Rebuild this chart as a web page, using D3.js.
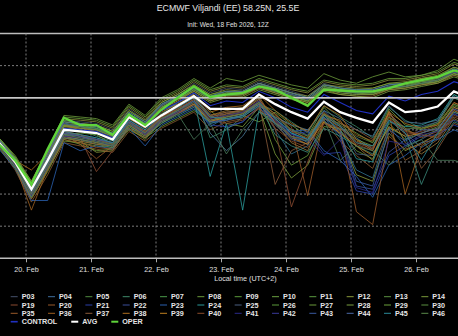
<!DOCTYPE html>
<html><head><meta charset="utf-8">
<script src="https://cdn.jsdelivr.net/npm/d3@7"></script>
<style>html,body{margin:0;padding:0;background:#000;overflow:hidden}svg{display:block}</style>
</head><body><svg id="c" width="458" height="336"></svg>
<script>
// ---- categories (local time, UTC+2) ----
const times = ["2026-02-19T14:00","2026-02-19T20:00",
"2026-02-20T02:00","2026-02-20T08:00","2026-02-20T14:00","2026-02-20T20:00",
"2026-02-21T02:00","2026-02-21T08:00","2026-02-21T14:00","2026-02-21T20:00",
"2026-02-22T02:00","2026-02-22T08:00","2026-02-22T14:00","2026-02-22T20:00",
"2026-02-23T02:00","2026-02-23T08:00","2026-02-23T14:00","2026-02-23T20:00",
"2026-02-24T02:00","2026-02-24T08:00","2026-02-24T14:00","2026-02-24T20:00",
"2026-02-25T02:00","2026-02-25T08:00","2026-02-25T14:00","2026-02-25T20:00",
"2026-02-26T02:00","2026-02-26T08:00","2026-02-26T14:00","2026-02-26T20:00"];
const dayTicks = ["2026-02-20","2026-02-21","2026-02-22","2026-02-23","2026-02-24","2026-02-25","2026-02-26"];
const dayLabels = ["20. Feb","21. Feb","22. Feb","23. Feb","24. Feb","25. Feb","26. Feb"];
const yTicks = [4,2,0,-2,-4,-6,-8,-10];

// ---- series (°C) ----
const P01=[-2.6,-3.9,-5.5,-3.6,-1.6,-1.8,-1.9,-2.4,-1.0,-1.6,-0.4,0.0,0.6,0.0,0.3,0.4,0.9,0.5,0.2,-0.1,0.7,0.5,0.4,0.5,0.8,0.9,1.1,1.2,1.7,1.4];
const P02=[-3.0,-4.2,-6.0,-4.3,-2.4,-2.6,-2.9,-3.0,-1.6,-2.3,-1.5,-0.9,-0.4,-1.8,-1.2,-1.0,-0.2,-2.0,-3.5,-3.0,-1.2,-2.5,-4.5,-5.0,-1.8,-3.0,-2.6,-2.0,-0.6,-1.0];
const P03=[-2.7,-3.8,-5.3,-3.4,-1.4,-1.5,-1.6,-2.0,-0.7,-1.4,-0.5,0.2,0.9,0.3,0.6,0.5,1.0,0.7,0.4,0.1,0.9,0.6,0.5,0.4,0.7,0.8,1.0,1.1,1.6,1.3];
const P04=[-2.9,-4.1,-5.8,-4.0,-2.2,-2.3,-2.5,-2.8,-1.4,-2.0,-1.2,-0.6,0.0,-1.0,-1.9,-1.5,-0.5,-1.3,-2.2,-2.8,-0.8,-1.8,-2.5,-3.2,-0.9,-2.2,-3.1,-2.5,-1.0,-1.6];
const P05=[-2.8,-4.0,-5.6,-3.7,-1.8,-1.9,-2.0,-2.3,-1.1,-1.7,-0.7,-0.2,0.4,-0.2,0.1,0.2,0.6,0.3,0.0,-0.3,0.5,0.3,0.2,0.2,0.5,0.6,0.8,1.0,1.4,1.1];
const P06=[-2.5,-3.8,-5.4,-3.5,-1.7,-2.0,-2.4,-2.7,-1.3,-1.9,-1.0,-0.3,0.2,-2.5,-2.0,-1.2,-0.4,-0.8,-1.5,-2.2,-0.5,-1.2,-1.8,-2.5,-0.6,-1.4,-1.9,-1.5,0.2,-0.3];
const P07=[-2.9,-4.1,-5.7,-3.8,-1.9,-2.0,-2.1,-2.5,-1.1,-1.8,-0.6,-0.1,0.5,-0.1,0.2,0.1,0.7,0.4,0.1,-0.2,0.6,0.4,0.3,0.3,0.6,0.7,0.9,1.0,1.5,1.2];
const P08=[-3.1,-4.4,-6.3,-4.6,-2.6,-2.9,-3.3,-3.2,-2.0,-2.5,-1.8,-1.3,-0.8,-1.5,-1.0,-0.8,0.0,-2.6,-4.2,-3.6,-1.5,-2.0,-3.3,-3.8,-1.6,-2.6,-2.2,-1.8,-0.4,-0.8];
const P09=[-2.6,-3.8,-5.4,-3.5,-1.5,-1.7,-1.8,-2.2,-0.9,-1.5,-0.3,0.2,0.8,0.2,0.4,0.4,0.9,0.6,0.3,0.0,0.8,0.6,0.5,0.5,0.8,0.9,1.2,1.3,1.9,1.6];
const P10=[-2.8,-4.0,-5.9,-4.1,-2.3,-2.2,-2.3,-2.9,-1.5,-2.1,-1.3,-0.8,-0.2,-1.2,-1.4,-1.1,-1.5,-0.9,-1.7,-2.4,-0.6,-1.6,-2.2,-2.8,-0.7,-1.7,-2.0,-1.6,0.0,-0.5];
const P11=[-2.7,-3.9,-5.6,-3.7,-1.7,-1.8,-1.9,-2.3,-1.0,-1.6,-0.5,0.0,0.6,0.1,0.3,0.3,0.8,0.5,0.2,-0.1,0.7,0.5,0.4,0.4,0.7,0.8,1.0,1.2,1.6,1.4];
const P12=[-2.9,-4.2,-6.1,-4.4,-2.5,-2.7,-3.4,-3.3,-1.8,-2.4,-1.6,-1.0,-0.5,-1.5,-1.1,-0.9,-0.3,-1.0,-2.0,-2.6,-1.0,-2.3,-4.8,-5.2,-2.2,-3.3,-2.8,-2.3,-0.8,-1.3];
const P13=[-2.8,-3.9,-5.5,-3.6,-1.6,-1.9,-2.0,-2.4,-1.0,-1.7,-0.6,-0.1,0.5,0.0,0.2,0.3,0.8,0.4,0.1,-0.2,0.6,0.4,0.3,0.3,0.6,0.7,0.9,1.1,1.5,1.2];
const P14=[-3.0,-4.3,-6.2,-4.5,-2.7,-2.8,-3.0,-3.1,-1.9,-2.6,-1.4,-0.7,0.3,-0.8,-1.6,-1.8,-0.6,-3.5,-5.0,-4.2,-1.8,-1.9,-2.6,-3.0,-1.2,-2.0,-2.4,-2.0,-0.5,-0.9];
const P15=[-2.5,-3.7,-5.2,-3.3,-1.3,-1.4,-1.5,-1.9,-0.6,-1.3,-0.2,0.3,1.0,0.4,0.7,0.6,1.1,0.8,0.5,0.3,1.0,0.8,0.7,0.8,1.1,1.1,1.3,1.5,2.1,1.8];
const P16=[-2.7,-4.0,-5.8,-3.9,-2.1,-2.3,-2.8,-2.9,-1.5,-2.2,-1.1,-0.5,0.1,-1.1,-0.8,-0.6,0.1,-1.6,-2.8,-3.3,-1.1,-1.4,-3.0,-3.9,-0.8,-2.8,-3.5,-2.8,-1.3,-1.8];
const P17=[-2.8,-4.1,-5.7,-3.8,-1.8,-1.9,-2.1,-2.5,-1.1,-1.8,-0.7,-0.2,0.4,-0.2,0.1,0.1,0.6,0.3,0.0,-0.3,0.5,0.2,0.1,0.1,0.5,0.6,0.8,0.9,1.4,1.1];
const P18=[-3.1,-4.5,-6.5,-4.8,-2.8,-3.0,-3.2,-3.4,-2.1,-2.7,-1.9,-1.4,-0.9,-2.0,-1.5,-1.3,-0.7,-1.4,-2.4,-2.9,-1.4,-2.7,-3.6,-4.4,-1.9,-3.9,-3.3,-2.6,-1.2,-1.6];
const P19=[-2.9,-4.1,-6.0,-4.2,-2.4,-2.5,-4.6,-3.3,-1.7,-2.3,-1.4,-0.9,-0.3,-1.3,-1.0,-0.7,0.0,-1.9,-6.8,-4.0,-1.6,-2.1,-2.9,-3.3,-1.1,-2.3,-2.1,-1.7,-0.3,-0.8];
const P20=[-2.8,-4.0,-5.9,-4.1,-2.3,-2.9,-3.8,-3.0,-1.6,-2.2,-1.3,-0.8,-0.3,-1.4,-1.3,-1.1,-0.4,-1.1,-1.8,-6.1,-1.3,-1.8,-2.7,-3.1,-1.0,-1.9,-2.5,-2.1,-0.7,-1.2];
const P21=[-3.0,-4.2,-6.1,-4.3,-2.4,-2.6,-2.7,-2.9,-1.6,-2.3,-1.5,-1.0,-0.6,-1.7,-1.8,-1.5,-0.6,-1.5,-2.3,-2.1,-3.5,-3.4,-5.8,-6.0,-3.6,-3.0,-2.4,-2.3,-1.7,-2.1];
const P22=[-2.9,-4.1,-6.0,-4.2,-2.3,-2.5,-2.6,-2.8,-1.5,-2.2,-1.3,-0.9,-0.5,-1.4,-1.2,-1.0,-0.3,-1.2,-2.0,-2.3,-1.4,-2.3,-5.5,-5.7,-3.4,-2.6,-2.0,-2.0,-1.4,-1.8];
const P23=[-3.2,-4.4,-6.4,-6.4,-2.8,-3.3,-3.0,-3.2,-1.9,-3.0,-1.7,-1.2,-0.7,-1.6,-1.4,-1.2,-0.5,-1.3,-2.1,-2.0,-3.3,-3.9,-4.9,-6.2,-4.2,-3.6,-2.8,-2.6,-2.0,-2.4];
const P24=[-2.7,-3.9,-5.6,-3.7,-1.6,-1.8,-1.9,-2.3,-1.1,-1.8,-0.8,-0.4,0.0,-4.9,-1.6,-7.0,-0.8,-1.6,-2.2,-2.6,-1.2,-2.0,-3.8,-4.0,-1.5,-1.8,-1.7,-1.3,0.2,-0.4];
const P25=[-2.8,-4.0,-5.8,-4.0,-2.1,-2.4,-2.6,-2.9,-1.4,-2.1,-1.2,-0.7,-0.2,-1.2,-0.9,-0.8,-0.1,-1.7,-2.6,-2.9,-1.0,-1.7,-3.5,-3.6,-1.4,-2.0,-1.8,-1.5,0.1,-0.5];
const P26=[-2.6,-3.8,-5.4,-3.4,-1.4,-1.6,-1.7,-2.1,-0.8,-1.5,-0.4,0.1,0.7,0.1,0.4,0.3,0.8,0.6,0.3,0.0,0.8,0.6,0.5,0.6,0.9,0.9,1.1,1.3,1.8,1.5];
const P27=[-2.7,-3.9,-5.6,-3.6,-1.7,-1.7,-1.8,-2.3,-1.0,-1.6,-0.5,0.0,0.6,0.0,0.3,0.3,0.7,0.4,0.1,-0.2,0.6,0.5,0.4,0.3,0.6,0.7,1.0,1.1,1.6,1.3];
const P28=[-2.9,-4.0,-5.7,-3.8,-1.9,-2.0,-2.2,-2.6,-1.2,-1.8,-0.8,-0.3,0.3,-0.3,0.0,0.0,0.5,0.2,-0.1,-0.4,0.4,0.2,0.1,0.0,0.4,0.5,0.7,0.9,1.3,1.0];
const P29=[-2.5,-3.7,-5.3,-3.3,-1.2,-1.3,-1.4,-1.8,-0.5,-1.2,-0.1,0.4,1.1,0.5,0.8,0.7,1.2,0.9,0.6,0.4,1.1,0.9,0.8,0.9,1.2,1.2,1.4,1.6,2.2,1.9];
const P30=[-2.7,-3.9,-5.5,-3.6,-1.6,-1.7,-1.9,-2.3,-1.0,-1.6,-0.5,0.1,0.6,0.0,0.3,0.2,0.7,0.5,0.2,-0.1,0.7,0.5,0.4,0.4,0.7,0.8,1.0,1.2,1.7,1.4];
const P31=[-2.9,-4.2,-6.0,-4.2,-2.3,-2.4,-2.7,-3.0,-1.6,-2.3,-1.4,-0.8,-0.1,-2.2,-3.3,-2.4,-0.9,-1.2,-1.7,-2.0,-0.8,-1.3,-2.0,-2.4,-0.5,-1.5,-1.6,-1.4,0.0,-0.4];
const P32=[-2.8,-4.0,-5.6,-3.7,-1.8,-1.8,-2.0,-2.4,-1.0,-1.7,-0.6,-0.1,0.5,-0.1,0.2,0.2,0.7,0.4,0.1,-0.2,0.6,0.4,0.3,0.2,0.6,0.7,0.9,1.0,1.5,1.2];
const P33=[-3.0,-4.3,-6.2,-4.4,-2.5,-2.7,-2.9,-3.1,-1.8,-2.5,-1.6,-1.1,-0.6,-1.6,-1.3,-1.2,-0.5,-2.3,-3.0,-3.4,-1.9,-2.4,-3.0,-3.5,-1.9,-2.4,-5.4,-3.0,-1.5,-1.9];
const P34=[-2.6,-3.8,-5.4,-3.5,-1.5,-1.6,-1.7,-2.1,-0.8,-1.4,-0.3,0.2,0.8,0.2,0.5,0.4,0.9,0.6,0.3,0.1,0.8,0.7,0.6,0.6,0.9,1.0,1.2,1.4,1.9,1.6];
const P35=[-3.0,-4.3,-6.3,-4.5,-2.6,-2.8,-3.1,-3.2,-1.9,-2.5,-1.5,-1.0,-0.4,-1.4,-1.1,-0.9,-0.2,-1.0,-2.1,-2.5,-0.9,-2.0,-7.1,-7.9,-2.4,-3.2,-2.9,-2.2,-0.8,-1.2];
const P36=[-2.9,-4.2,-7.0,-4.4,-2.5,-2.7,-2.9,-3.0,-1.7,-2.4,-1.2,-0.7,-0.1,-1.1,-0.9,-0.8,-0.1,-1.3,-2.4,-2.6,-1.0,-1.5,-2.3,-2.7,-0.9,-6.0,-3.0,-2.4,-0.9,-1.3];
const P37=[-2.8,-4.0,-5.9,-4.0,-2.2,-2.4,-2.6,-2.9,-1.5,-2.1,-1.2,-0.6,0.0,-1.2,-1.0,-0.9,-0.3,-5.4,-3.3,-2.8,-1.3,-1.6,-2.0,-2.6,-1.0,-1.9,-4.4,-3.2,-1.6,-2.0];
const P38=[-2.7,-3.9,-4.5,-3.5,-1.7,-2.0,-2.2,-2.6,-1.3,-1.9,-0.9,-0.4,0.2,-0.9,-0.6,-0.5,0.2,-0.8,-1.6,-2.1,-0.5,-1.1,-2.6,-3.3,-0.9,-1.6,-1.9,-1.7,-0.3,-0.7];
const P39=[-2.9,-4.1,-6.1,-4.3,-2.4,-2.6,-2.8,-3.0,-1.7,-2.3,-1.4,-0.9,-0.4,-1.5,-1.2,-1.0,-0.4,-1.5,-2.5,-2.9,-1.5,-2.2,-3.0,-3.6,-1.8,-2.4,-2.2,-1.9,-0.6,-1.0];
const P40=[-2.8,-4.0,-5.8,-4.0,-2.1,-2.3,-2.6,-2.8,-1.5,-2.1,-1.2,-0.7,-0.1,-1.3,-1.6,-1.4,-0.6,-1.9,-2.7,-3.1,-1.6,-1.9,-2.8,-3.2,-1.3,-2.1,-2.3,-2.5,-1.1,-1.5];
const P41=[-3.0,-4.2,-6.1,-4.3,-2.4,-2.5,-2.7,-3.0,-1.6,-2.3,-1.4,-0.9,-0.3,-1.3,-1.1,-0.9,-0.2,-1.4,-2.3,-2.6,-3.6,-2.6,-5.6,-5.9,-2.7,-2.9,-2.3,-2.1,-1.0,-1.4];
const P42=[-2.7,-3.9,-5.5,-3.6,-1.6,-1.8,-2.0,-2.4,-1.0,-1.6,-0.5,0.0,0.6,0.0,0.2,0.3,0.8,0.4,0.2,-0.1,0.6,0.4,0.3,0.4,0.7,0.7,0.9,1.1,1.6,1.3];
const P43=[-2.9,-4.1,-5.9,-4.1,-2.2,-2.4,-2.6,-2.8,-1.5,-2.2,-1.3,-0.8,-0.2,-1.5,-1.4,-1.1,-0.4,-1.6,-2.5,-2.7,-1.2,-2.1,-5.2,-5.5,-2.0,-2.7,-2.2,-1.9,-0.7,-1.1];
const P44=[-2.6,-3.8,-5.4,-3.5,-1.5,-1.6,-1.8,-2.2,-0.9,-1.5,-0.4,0.1,0.7,0.1,0.4,0.4,0.9,0.6,0.3,0.0,0.8,0.6,0.5,0.5,0.8,0.9,1.1,1.3,1.8,1.5];
const P45=[-2.8,-4.0,-5.8,-4.0,-2.1,-2.3,-2.5,-2.8,-1.4,-2.0,-1.1,-0.6,0.0,-1.2,-1.3,-1.1,-0.3,-1.3,-2.2,-2.6,-1.1,-1.8,-2.8,-3.0,-1.4,-2.2,-3.9,-2.2,-0.9,-1.3];
const P46=[-2.7,-3.9,-5.6,-3.7,-1.7,-1.8,-2.0,-2.4,-1.0,-1.7,-0.6,-0.1,0.5,-0.1,0.2,0.2,0.7,0.4,0.1,-0.2,0.6,0.4,0.3,0.3,0.6,0.7,0.9,1.1,1.5,1.3];
const P47=[-2.5,-3.6,-5.2,-3.2,-1.1,-1.2,-1.3,-1.7,-0.4,-1.1,0.0,0.5,1.2,0.6,1.2,1.0,1.4,1.1,0.8,0.6,1.5,1.1,0.9,1.3,1.6,1.3,1.4,1.7,2.4,2.0];
const P48=[-3.0,-4.3,-6.2,-4.4,-2.5,-2.6,-2.8,-3.0,-1.7,-2.4,-1.5,-1.0,-2.6,-1.6,-3.5,-2.0,-0.9,-1.6,-2.4,-2.7,-1.3,-3.9,-3.0,-3.3,-4.2,-3.1,-2.6,-3.9,-3.9,-4.2];
const P49=[-2.8,-4.0,-5.6,-3.7,-1.7,-1.9,-2.0,-2.4,-1.1,-1.7,-0.6,-0.1,0.4,-0.2,0.2,0.2,0.7,0.3,0.0,-0.3,0.6,0.3,0.2,0.2,0.5,0.6,0.8,1.0,1.5,1.2];
const P50=[-2.9,-4.1,-6.0,-4.2,-2.3,-2.5,-2.7,-2.9,-1.6,-2.2,-1.3,-0.8,-0.3,-1.4,-1.2,-1.0,-0.3,-1.2,-2.0,-2.4,-1.0,-1.7,-2.4,-2.8,-1.2,-1.9,-1.9,-1.6,-0.4,-0.9];
const CONTROL=[-2.8,-4.0,-5.7,-3.8,-1.9,-2.0,-2.1,-2.5,-1.1,-1.8,-0.8,-0.3,0.3,-0.5,-0.2,-0.3,0.4,0.0,-0.6,-0.9,0.2,-0.3,-0.8,-1.0,0.1,-0.2,0.2,0.4,1.0,0.7];
const AVG=[-2.8,-4.0,-5.7,-3.9,-2.0,-2.1,-2.2,-2.6,-1.2,-1.8,-1.1,-0.5,0.1,-0.7,-0.7,-0.7,0.2,-0.4,-0.9,-1.3,-0.25,-0.9,-1.25,-1.55,-0.3,-0.9,-0.8,-0.55,0.4,0.0];
const OPER=[-2.9,-3.9,-5.4,-3.2,-1.25,-1.7,-1.7,-2.3,-1.05,-1.7,-0.75,0.0,0.7,0.05,0.2,0.3,0.7,0.5,0.0,-0.5,0.5,0.45,0.4,0.4,0.6,0.9,1.1,1.3,1.7,1.45];

const memberNames = d3.range(1,51).map(i=>"P"+String(i).padStart(2,"0"));
const memberData = [P01,P02,P03,P04,P05,P06,P07,P08,P09,P10,P11,P12,P13,P14,P15,P16,P17,P18,P19,P20,
P21,P22,P23,P24,P25,P26,P27,P28,P29,P30,P31,P32,P33,P34,P35,P36,P37,P38,P39,P40,
P41,P42,P43,P44,P45,P46,P47,P48,P49,P50];
const memberColors = ["#3b4fa0","#2f6f8f","#45506a","#3f6f9f","#4f8a3f","#3f8a6a","#4a9a4a","#6a9a3a","#5a9a3a","#6aa040",
"#5a9a40","#8a9a3a","#5a9040","#7a9a3a","#8a8a3a","#9a7a3a","#a06a30","#8a5a30","#8a4a30","#9a5a2a",
"#2a3fa8","#3a4f9a","#2a60b0","#2a9a9a","#4a5f80","#5a9a3a","#6a9a3a","#7aa040","#6aa03a","#5a9040",
"#4a7a9a","#7a9a3a","#3a8a7a","#8a9a3a","#9a5a2a","#a06020","#8a5a3a","#b07020","#c08020","#8a4a2a",
"#2a2a8a","#3a3a9a","#3a5aa0","#4a6aa8","#2a8a9a","#5a8a4a","#6a9a3a","#4a7a5a","#7a8a3a","#5a7a3a"];

const W=458,H=336;
const svg=d3.select("#c");
svg.append("rect").attr("width",W).attr("height",H).attr("fill","#000");
const parse=d3.utcParse("%Y-%m-%dT%H:%M"), parseDay=d3.utcParse("%Y-%m-%d");
const T=times.map(parse);
const x=d3.scaleUtc().domain([parseDay("2026-02-20"),parseDay("2026-02-27")]).range([26,481]);
const y=d3.scaleLinear().domain([-10,4]).range([258.3,33.5]);
const FONT="'Liberation Sans', Arial, sans-serif";

// title
svg.append("text").attr("x",228).attr("y",11).attr("text-anchor","middle").attr("fill","#e8e8e8")
 .attr("font-family",FONT).attr("font-size","8.8px").text("ECMWF Viljandi (EE) 58.25N, 25.5E");
svg.append("text").attr("x",228).attr("y",27).attr("text-anchor","middle").attr("fill","#e0e0e0")
 .attr("font-family",FONT).attr("font-size","6.6px").text("Init: Wed, 18 Feb 2026, 12Z");

// grid
const g=svg.append("g");
yTicks.forEach(v=>{
  const solid = (v===4||v===0);
  if(v===-10) return;
  g.append("line").attr("x1",0).attr("x2",W).attr("y1",y(v)).attr("y2",y(v))
   .attr("stroke", solid? "#bdbdbd":"#8a8a8a").attr("stroke-width", solid?1.4:0.9)
   .attr("stroke-dasharray", solid? null:"2,2");
});
dayTicks.forEach(d=>{
  const xx=x(parseDay(d));
  g.append("line").attr("x1",xx).attr("x2",xx).attr("y1",y(4)).attr("y2",y(-10))
   .attr("stroke","#8a8a8a").attr("stroke-width",0.9).attr("stroke-dasharray","2,2");
});

// lines
svg.append("clipPath").attr("id","cp").append("rect").attr("x",0).attr("y",y(4)).attr("width",W).attr("height",y(-10)-y(4));
const L=svg.append("g").attr("clip-path","url(#cp)");
const line=d3.line().x((d,i)=>x(T[i])).y(d=>y(d));
memberData.forEach((s,k)=>{
  L.append("path").datum(s).attr("d",line).attr("fill","none")
   .attr("stroke",memberColors[k]).attr("stroke-width",0.9).attr("stroke-opacity",0.9);
});
L.append("path").datum(CONTROL).attr("d",line).attr("fill","none").attr("stroke","#2030c0").attr("stroke-width",1.1);
L.append("line").attr("x1",0).attr("x2",W).attr("y1",y(0)).attr("y2",y(0)).attr("stroke","#c8c8c8").attr("stroke-width",1.4);
L.append("path").datum(AVG).attr("d",line).attr("fill","none").attr("stroke","#ffffff").attr("stroke-width",2.3);
L.append("path").datum(OPER).attr("d",line).attr("fill","none").attr("stroke","#5fd43a").attr("stroke-width",2.3);

// x axis
const ax=svg.append("g").attr("transform",`translate(0,${y(-10)})`)
 .call(d3.axisBottom(x).tickValues(dayTicks.map(parseDay)).tickFormat((d,i)=>dayLabels[i]).tickSize(4).tickSizeOuter(0));
ax.select(".domain").remove();
ax.selectAll(".tick line").attr("stroke","#aaa");
ax.selectAll(".tick text").attr("fill","#e0e0e0").attr("font-family",FONT).attr("font-size","7.2px").attr("dy","0.9em");
svg.append("line").attr("x1",0).attr("x2",W).attr("y1",y(-10)).attr("y2",y(-10)).attr("stroke","#bdbdbd").attr("stroke-width",1.4);
svg.append("text").attr("x",245.5).attr("y",281).attr("text-anchor","middle").attr("fill","#e0e0e0")
 .attr("font-family",FONT).attr("font-size","7.2px").text("Local time (UTC+2)");

// legend (16-column flow; columns outside the picture are not drawn, as in the reference crop)
const rowY=[296.7,305,313.3,321.7];
const lg=svg.append("g").attr("font-family",FONT).attr("font-size","7.2px").attr("font-weight","bold");
function item(tx,cy,name,color,w){
  lg.append("line").attr("x1",tx-11).attr("x2",tx-4).attr("y1",cy).attr("y2",cy).attr("stroke",color).attr("stroke-width",w);
  return lg.append("text").attr("x",tx).attr("y",cy+2.6).attr("fill","#e6e6e6").text(name);
}
memberNames.forEach((n,k)=>{
  const r=Math.floor(k/16), c=k%16;
  const tx=21.7+(c-2)*37.33;
  if(tx-11<0 || tx+14>W) return;
  item(tx, rowY[r], n, memberColors[k], 1);
});
let tx=21.7;
[["CONTROL","#2030c0",1.6],["AVG","#ffffff",2],["OPER","#5fd43a",2]].forEach(([n,col,w])=>{
  const t=item(tx,rowY[3],n,col,w);
  tx += t.node().getComputedTextLength()+25;
});
</script>
</body></html>
